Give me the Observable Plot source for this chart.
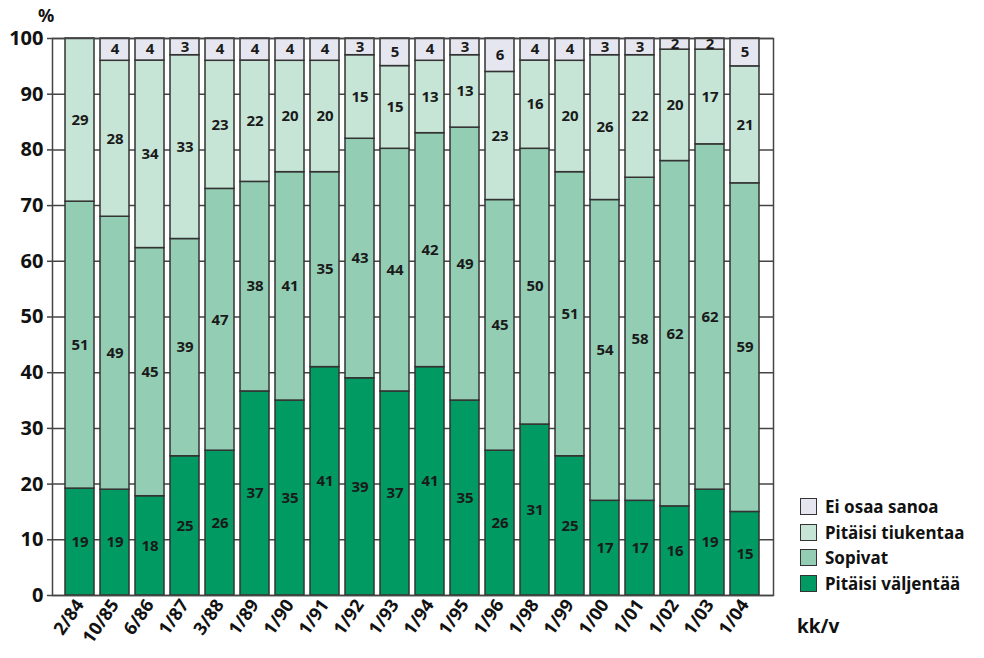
<!DOCTYPE html>
<html><head><meta charset="utf-8">
<script src="https://cdn.jsdelivr.net/npm/d3@7"></script>
<script src="https://cdn.jsdelivr.net/npm/@observablehq/plot@0.6"></script>
<style>
body{margin:0;background:#fff;font-family:"Noto Sans",sans-serif;}
#wrap{position:relative;width:984px;height:658px;}
#pct{position:absolute;left:38px;top:3px;font-weight:700;font-size:18px;color:#111;}
#kkv{position:absolute;left:797px;top:613px;font-weight:700;font-size:19px;color:#111;}
#legend{position:absolute;left:800px;top:494px;font-weight:700;font-size:17px;color:#111;}
#legend .row{display:flex;align-items:center;height:25.5px;}
#legend .sw{width:17px;height:17px;border:1.5px solid #333;box-sizing:border-box;margin-right:8px;}
</style></head>
<body><div id="wrap"><div id="pct">%</div><div id="kkv">kk/v</div><div id="legend"></div></div>
<script>
const categories = ["2/84","10/85","6/86","1/87","3/88","1/89","1/90","1/91","1/92","1/93","1/94","1/95","1/96","1/98","1/99","1/00","1/01","1/02","1/03","1/04"];
const seriesNames = ["Pitäisi väljentää","Sopivat","Pitäisi tiukentaa","Ei osaa sanoa"];
const seriesColors = ["#009a62","#93cdb4","#c6e5d6","#e6e6f0"];
const valjentaa = [19,19,18,25,26,37,35,41,39,37,41,35,26,31,25,17,17,16,19,15];
const sopivat   = [51,49,45,39,47,38,41,35,43,44,42,49,45,50,51,54,58,62,62,59];
const tiukentaa = [29,28,34,33,23,22,20,20,15,15,13,13,23,16,20,26,22,20,17,21];
const eiOsaa    = [0,4,4,3,4,4,4,4,3,5,4,3,6,4,4,3,3,2,2,5];
const yTicks = [0,10,20,30,40,50,60,70,80,90,100];
const seriesValues = [valjentaa, sopivat, tiukentaa, eiOsaa];

const data = [];
seriesNames.forEach((s, i) => categories.forEach((c, j) => data.push({cat: c, series: s, value: seriesValues[i][j]})));

const stackOpts = {x: "cat", y: "value", z: "series", offset: "normalize", order: seriesNames};

const chart = Plot.plot({
  width: 984, height: 658,
  marginLeft: 52, marginRight: 211, marginTop: 38, marginBottom: 63,
  style: {fontFamily: "Noto Sans, sans-serif", fontWeight: 700, fontSize: "17px", color: "#111"},
  x: {domain: categories, paddingInner: 0.17, paddingOuter: 0.12},
  y: {domain: [0, 1]},
  color: {domain: seriesNames, range: seriesColors},
  marks: [
    Plot.gridY(yTicks.map(t => t / 100), {stroke: "#444", strokeOpacity: 1, strokeWidth: 1.5}),
    Plot.barY(data, Plot.stackY({...stackOpts, fill: "series", stroke: "#333", strokeWidth: 1.5})),
    Plot.text(data.filter(d => d.value > 0), Plot.stackY({...stackOpts, text: d => String(d.value), fill: "#1a1a1a", fontSize: 15, fontWeight: 700})),
    Plot.frame({stroke: "#444", strokeWidth: 1.5}),
    Plot.axisY(yTicks.map(t => t / 100), {tickFormat: d => String(Math.round(d * 100)), label: null, tickSize: 5, tickPadding: 4, fontSize: 20, stroke: "#444", strokeWidth: 1.5}),
    Plot.axisX({label: null, tickSize: 0, tickRotate: -55, tickPadding: 6, fontSize: 18})
  ]
});
document.getElementById("wrap").prepend(chart);

const legend = document.getElementById("legend");
[...seriesNames].reverse().forEach((s) => {
  const row = document.createElement("div"); row.className = "row";
  const sw = document.createElement("div"); sw.className = "sw";
  sw.style.background = seriesColors[seriesNames.indexOf(s)];
  const t = document.createElement("span"); t.textContent = s;
  row.append(sw, t); legend.append(row);
});
</script></body></html>
